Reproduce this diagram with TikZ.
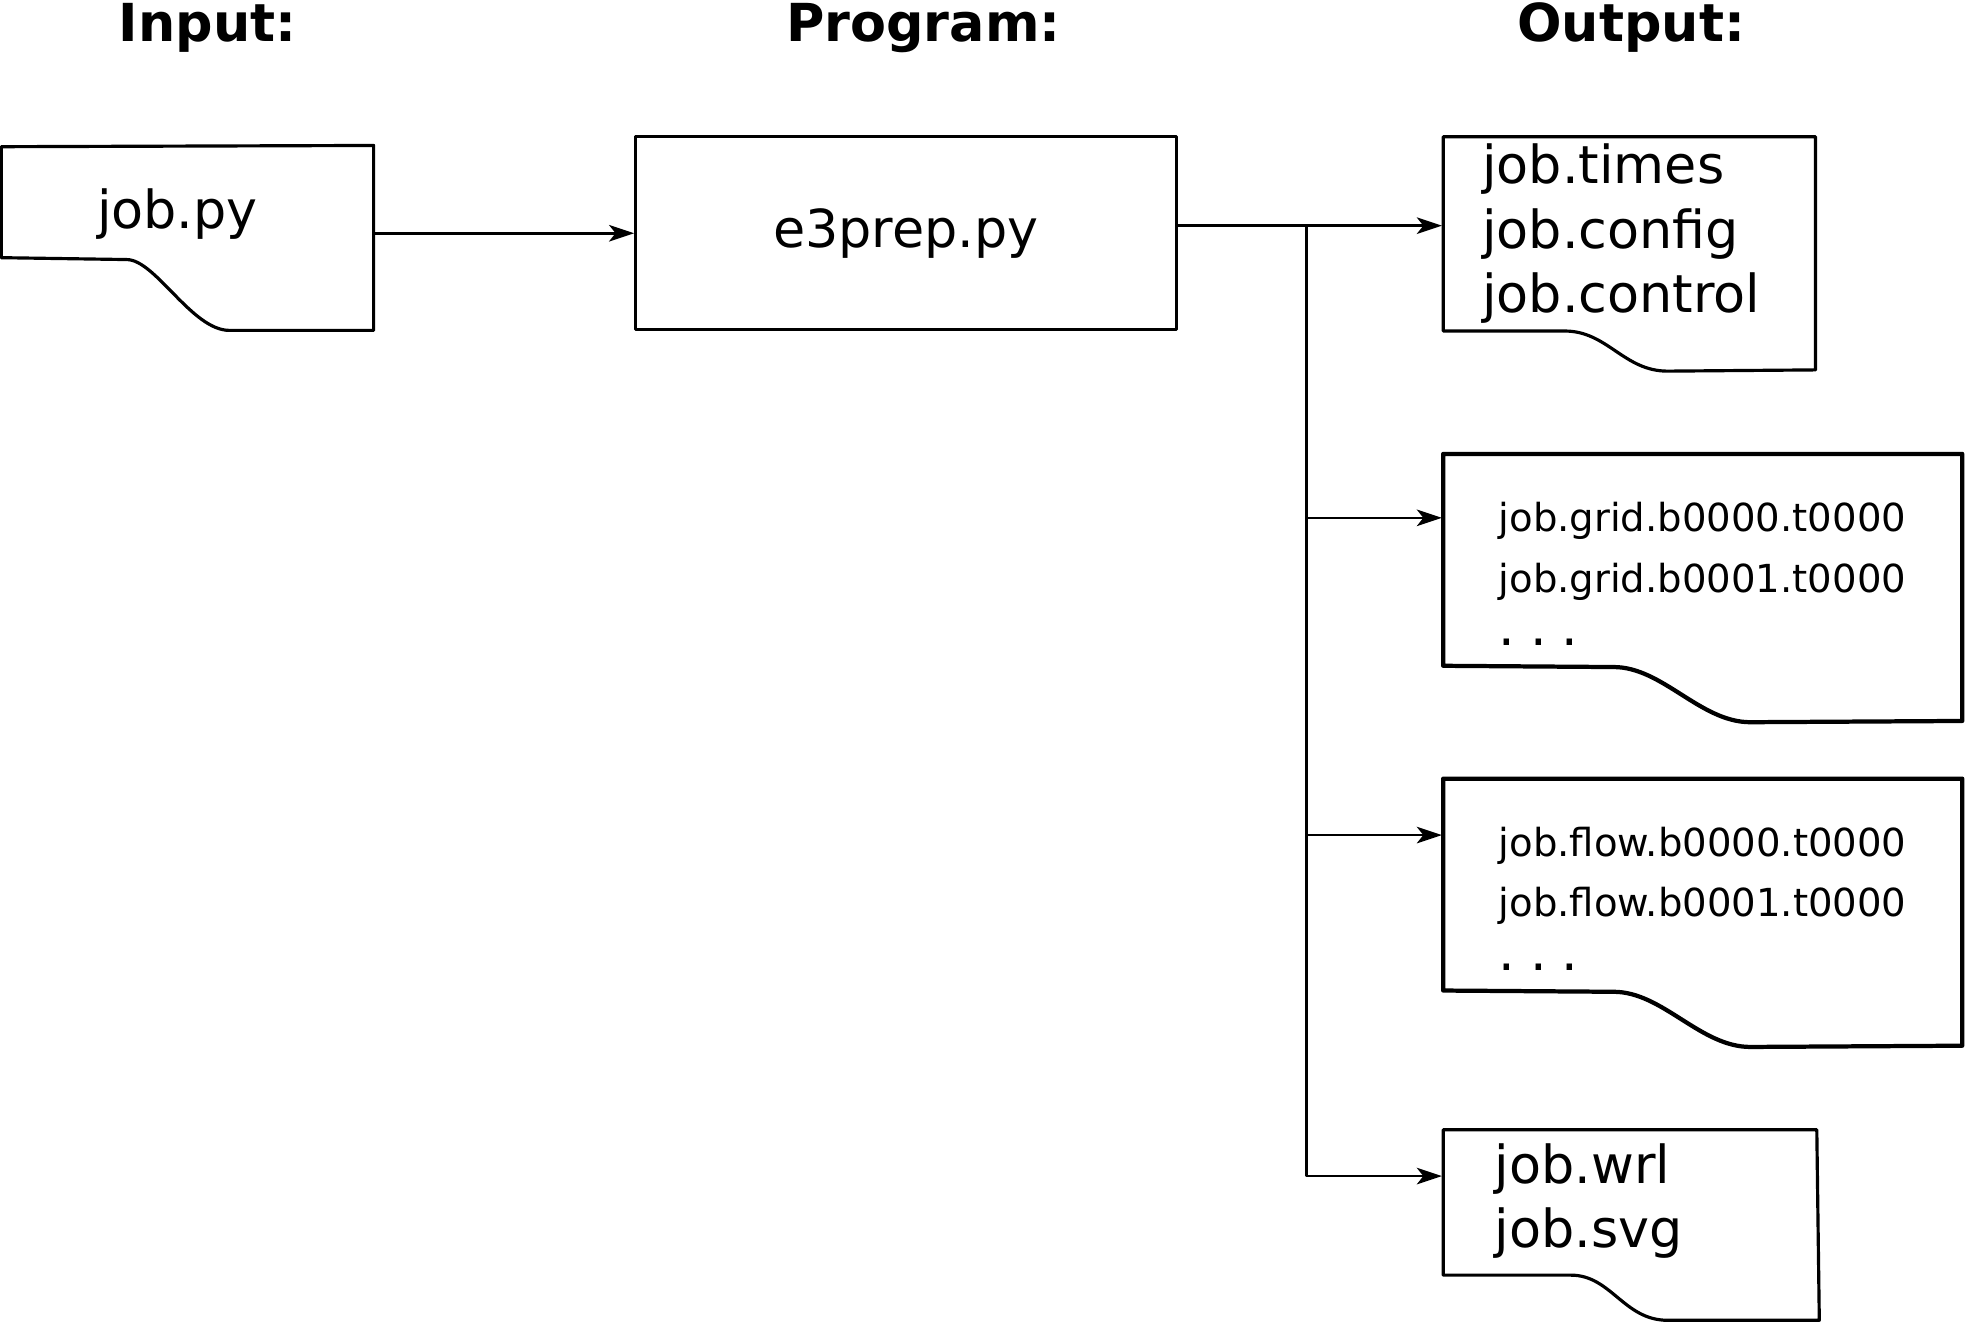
\documentclass[tikz,border=0pt]{standalone}
\usepackage{fontspec}
\setmainfont{DejaVu Sans}
\usetikzlibrary{arrows.meta}
\usetikzlibrary{positioning}

\begin{document}
\begin{tikzpicture}[x=0.025cm,y=-0.025cm,line join=round]
  \tikzstyle{title}=[font=\fontsize{29.7}{36}\selectfont\bfseries,anchor=base]
  \tikzstyle{big}=[font=\fontsize{29.7}{36.6}\selectfont,inner sep=0pt]
  \tikzstyle{small}=[font=\fontsize{21.9}{34.1}\selectfont,inner sep=0pt]
  \tikzstyle{doc}=[line width=1.8pt]
  \tikzstyle{thickdoc}=[line width=2.4pt]
  \tikzstyle{flow}=[line width=1.5pt,-{Stealth[length=0.5cm,width=0.33cm,inset=0.13cm]}]
  \newcommand{\dotrow}{{\fontsize{29.7}{34.1}\selectfont .\hspace{8.5pt}.\hspace{8.5pt}.}}
  \useasboundingbox (0,0) rectangle (1568,1055);

  \node[title] (tin) at (165.5,33) {Input:};
  \node[title] (tprog) at (736.5,33) {Program:};
  \node[title] (tout) at (1301,33) {Output:};

  % input
  \draw[doc] (1,117) -- (298,116) -- (298,263.5) -- (183,263.5)
    .. controls (153,263.5) and (124,207) .. (101,207) -- (1,205.5) -- cycle;
  \node[big,anchor=base] (jobpy) at (141.5,182) {job.py};

  % program
  \node[big,draw,line width=1.7pt,minimum width=10.775cm,minimum height=3.85cm] (prog) at (722.5,186) {e3prep.py};

  % outputs
  \draw[doc] (1151,109) -- (1448,109) -- (1448,295) -- (1330,296)
    .. controls (1295,296) and (1282,264) .. (1248,264) -- (1151,264) -- cycle;
  \draw[thickdoc] (1151,362) -- (1565,362) -- (1565,575) -- (1396,576)
    .. controls (1356,576) and (1326,532) .. (1287,532) -- (1151,531) -- cycle;
  \draw[thickdoc] (1151,621) -- (1565,621) -- (1565,834) -- (1396,835)
    .. controls (1356,835) and (1326,791) .. (1287,791) -- (1151,790) -- cycle;
  \draw[doc] (1151,901) -- (1449,901) -- (1451,1053) -- (1330,1053)
    .. controls (1295,1053) and (1285,1017) .. (1253,1017) -- (1151,1017) -- cycle;

  \node[big,align=left,anchor=west] (times) at (1182,186.5) {job.times\\job.config\\job.control};
  \node[small,align=left,anchor=west] (grid) at (1195,458) {job.grid.b0000.t0000\\job.grid.b0001.t0000\\[-3.6pt]\dotrow};
  \node[small,align=left,anchor=west] (flow) at (1195,717) {job.flow.b0000.t0000\\job.flow.b0001.t0000\\[-3.6pt]\dotrow};
  \node[big,align=left,anchor=west] (wrl) at (1192,958) {job.wrl\\job.svg};

  % connectors
  \coordinate (jpout) at (298,186);
  \coordinate (split) at (1042,180);
  \foreach \y/\n in {180/d1,413/d2,666/d3,938/d4}
    \coordinate (\n) at (1150,\y);
  \draw[flow] (jpout) -- (prog);
  \draw[flow] (prog.east |- split) -- (d1);
  \foreach \n in {d2,d3,d4}
    \draw[flow] (split) |- (\n);
\end{tikzpicture}
\end{document}
